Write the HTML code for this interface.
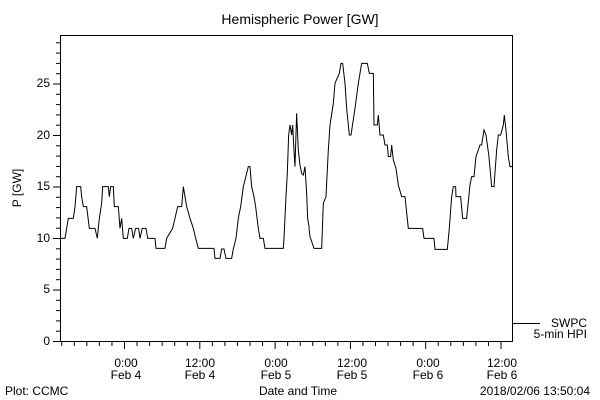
<!DOCTYPE html>
<html><head><style>
body{margin:0;background:#fff;}
svg{display:block;font-family:"Liberation Sans",sans-serif;}
</style></head><body>
<svg width="600" height="400" viewBox="0 0 600 400" xmlns="http://www.w3.org/2000/svg">
<rect width="600" height="400" fill="#fff"/>
<text x="300" y="24" font-size="14" text-anchor="middle">Hemispheric Power [GW]</text>
<rect x="60.5" y="35.5" width="452" height="306" fill="none" stroke="#000" stroke-width="1"/>
<g stroke="#000" stroke-width="1" id="yt"></g>
<g stroke="#000" stroke-width="1" id="xt"></g>
<g font-size="12" text-anchor="end">
<text x="50" y="345">0</text><text x="50" y="293">5</text><text x="50" y="242">10</text>
<text x="50" y="190">15</text><text x="50" y="139">20</text><text x="50" y="87">25</text>
</g>
<text transform="translate(21,188) rotate(-90)" font-size="12" text-anchor="middle">P [GW]</text>
<g font-size="12" text-anchor="middle">
<text x="126" y="367">0:00</text><text x="126" y="379">Feb 4</text>
<text x="200" y="367">12:00</text><text x="200" y="379">Feb 4</text>
<text x="276" y="367">0:00</text><text x="276" y="379">Feb 5</text>
<text x="352" y="367">12:00</text><text x="352" y="379">Feb 5</text>
<text x="428" y="367">0:00</text><text x="428" y="379">Feb 6</text>
<text x="502" y="367">12:00</text><text x="502" y="379">Feb 6</text>
<text x="298" y="395">Date and Time</text>
</g>
<text x="5" y="395" font-size="12">Plot: CCMC</text>
<text x="590" y="395" font-size="12" text-anchor="end">2018/02/06 13:50:04</text>
<line x1="513" y1="323.5" x2="540" y2="323.5" stroke="#000"/>
<text x="587" y="327" font-size="12" text-anchor="end">SWPC</text>
<text x="587" y="338" font-size="12" text-anchor="end">5-min HPI</text>
<g transform="translate(50,50) scale(0.3333)" fill="none" stroke="#000" stroke-width="1">
<polyline vector-effect="non-scaling-stroke" points="30,565 45,565 50,535 55,505 70,505 75,470 80,410 92,410 95,440 100,470 110,470 118,535 135,535 142,565 148,505 155,460 158,410 175,410 178,440 182,410 190,410 193,470 205,470 210,535 215,505 220,565 232,565 237,535 245,535 250,565 257,535 266,535 270,565 277,535 288,535 293,565 315,565 318,595 345,595 350,565 368,535 375,505 383,470 395,470 400,410 405,440 410,470 420,505 430,535 437,565 445,595 492,595 495,625 510,625 515,597 522,597 528,625 545,625 550,597 558,565 565,505 572,470 580,410 590,370 595,350 600,350 605,410 612,440 617,470 625,535 630,565 640,565 645,595 655,595 700,595 702,565 708,440 712,370 716,255 720,225 725,255 728,225 732,300 735,350 740,190 745,300 750,345 755,370 760,375 765,350 770,430 773,505 778,535"/>
</g>
<g transform="translate(290,50) scale(0.3333)" fill="none" stroke="#000" stroke-width="1">
<polyline vector-effect="non-scaling-stroke" points="57,535 60,560 72,595 95,595 100,460 108,440 115,300 120,225 130,160 135,100 148,70 153,40 158,40 165,100 170,175 178,255 183,255 195,175 205,100 215,40 232,40 238,70 250,70 252,225 262,225 265,195 270,255 280,255 285,285 292,285 295,320 302,320 305,285 310,330 318,355 325,405 335,440 345,440 355,535 398,535 402,565 432,565 435,598 472,598 478,535 485,440 490,410 497,410 498,440 512,440 518,505 530,505 540,405 545,380 552,380 558,320 565,300 570,285 575,285 582,240 588,255 597,320 605,410 612,410 620,300 625,255 632,255 640,225 643,195 648,240 655,320 660,350 666,350"/>
</g>
<script>
var ns="http://www.w3.org/2000/svg";
var yt=document.getElementById('yt');
for(var v=0;v<=29;v++){var y=341.5-v*10.3;var l=document.createElementNS(ns,'line');
l.setAttribute('x1',v%5==0?53:56);l.setAttribute('x2',60);l.setAttribute('y1',y);l.setAttribute('y2',y);yt.appendChild(l);}
var xt=document.getElementById('xt');
for(var k=-5;k<=31;k++){var x=124.5+k*12.55;if(x<61||x>512)continue;var l=document.createElementNS(ns,'line');
l.setAttribute('x1',x);l.setAttribute('x2',x);l.setAttribute('y1',342);l.setAttribute('y2',k%6==0?349:346);xt.appendChild(l);}
</script>
</svg>
</body></html>
